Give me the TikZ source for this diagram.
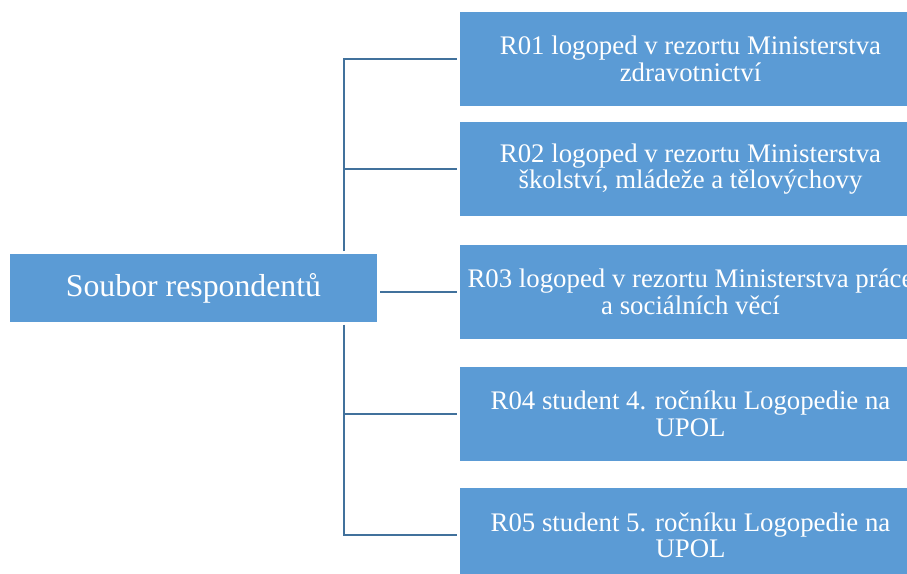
\documentclass[tikz,border=0pt]{standalone}
\usepackage{fontspec}
\setmainfont{Liberation Serif}
\usetikzlibrary{positioning}
\definecolor{boxblue}{HTML}{5B9BD5}
\definecolor{linkblue}{HTML}{41719C}

\begin{document}
\begin{tikzpicture}[every node/.style={text=white},
      group/.style={fill=boxblue,minimum width=367pt,minimum height=67.5pt,align=center,inner sep=0pt,font=\fontsize{31.8}{33}\selectfont},
      member/.style={fill=boxblue,minimum width=461pt,minimum height=94pt,align=center,inner sep=0pt,font=\fontsize{26.8}{26.7}\selectfont},
      link/.style={linkblue,line width=2pt,shorten <=3pt,shorten >=3pt}]
      \useasboundingbox (0,0) rectangle (907pt,-573pt);
      \node[group] (soubor) at (193.5pt,-288pt) {Soubor respondentů};
      \node[member] (r03) at (690.5pt,-291.5pt) {R03 logoped v rezortu Ministerstva práce\\a sociálních věcí};
      \node[member,above=28pt of r03] (r02) {R02 logoped v rezortu Ministerstva\\školství, mládeže a tělovýchovy};
      \node[member,above=16pt of r02] (r01) {R01 logoped v rezortu Ministerstva\\zdravotnictví};
      \node[member,below=28pt of r03] (r04) {R04 student 4. ročníku Logopedie na\\UPOL};
      \node[member,below=27pt of r04] (r05) {R05 student 5. ročníku Logopedie na\\UPOL};
      \draw[link] ([xshift=-33pt]soubor.north east) |- (r01.west); \draw[link] ([xshift=-33pt]soubor.north east) |- (r02.west);
      \draw[link] (soubor.east |- r03.west) -- (r03.west);
      \draw[link] ([xshift=-33pt]soubor.south east) |- (r04.west); \draw[link] ([xshift=-33pt]soubor.south east) |- (r05.west);
    \end{tikzpicture}
\end{document}
